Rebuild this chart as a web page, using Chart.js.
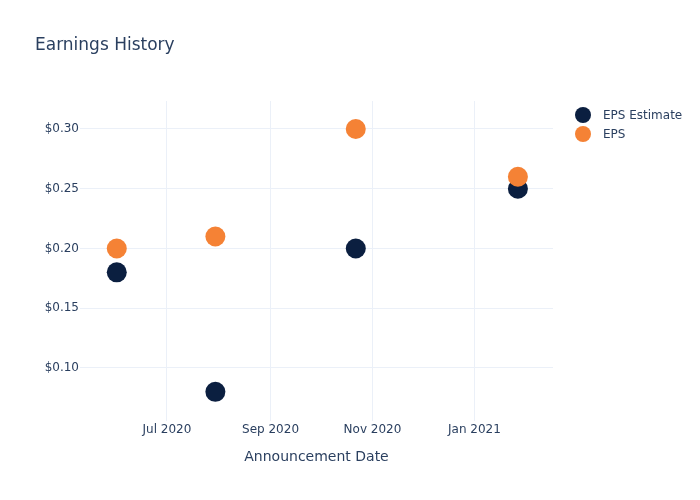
<!DOCTYPE html>
<html>
<head>
<meta charset="utf-8">
<script src="https://cdn.jsdelivr.net/npm/chart.js@4.4.0/dist/chart.umd.min.js"></script>
<style>
  html, body { margin: 0; padding: 0; background: #fff; }
  #wrap { width: 700px; height: 500px; }
</style>
</head>
<body>
<div id="wrap"><canvas id="earnings"></canvas></div>
<script>
// announcement dates and eps values
var dates = ['2020-06-01', '2020-07-30', '2020-10-22', '2021-01-27'];
var epsEstimate = [0.18, 0.08, 0.20, 0.25];
var epsActual = [0.20, 0.21, 0.30, 0.26];
var xTickDates = ['2020-07-01', '2020-09-01', '2020-11-01', '2021-01-01'];
var yTicks = [0.10, 0.15, 0.20, 0.25, 0.30];
var monthNames = ['Jan','Feb','Mar','Apr','May','Jun','Jul','Aug','Sep','Oct','Nov','Dec'];

var navy = '#0b1f40';
var orange = '#f58235';
var textColor = '#2a3f5f';
var gridColor = '#ebf0f8';
var fontFamily = '"DejaVu Sans", sans-serif';

function toMs(s) {
  var p = s.split('-');
  return Date.UTC(+p[0], +p[1] - 1, +p[2]);
}

function points(vals) {
  return dates.map(function (d, i) { return { x: toMs(d), y: vals[i] }; });
}

var legendItems = [
  { label: 'EPS Estimate', color: navy },
  { label: 'EPS', color: orange }
];

// simple legend drawn top right, plotly style
var sideLegend = {
  id: 'sideLegend',
  afterDraw: function (chart) {
    var ctx = chart.ctx;
    ctx.save();
    ctx.font = '12px ' + fontFamily;
    ctx.textBaseline = 'middle';
    ctx.textAlign = 'left';
    legendItems.forEach(function (item, i) {
      var y = 115 + i * 19;
      ctx.beginPath();
      ctx.arc(583, y, 8, 0, Math.PI * 2);
      ctx.fillStyle = item.color;
      ctx.fill();
      ctx.fillStyle = textColor;
      ctx.fillText(item.label, 603, y + 1);
    });
    ctx.restore();
  }
};

var chart = new Chart(document.getElementById('earnings'), {
  type: 'scatter',
  data: {
    datasets: [{
      label: 'EPS Estimate',
      data: points(epsEstimate),
      backgroundColor: navy,
      borderWidth: 0,
      pointRadius: 10,
      pointHoverRadius: 10,
      order: 1
    }, {
      label: 'EPS',
      data: points(epsActual),
      backgroundColor: orange,
      borderWidth: 0,
      pointRadius: 10,
      pointHoverRadius: 10,
      order: 0
    }]
  },
  options: {
    responsive: true,
    maintainAspectRatio: false,
    animation: false,
    layout: { padding: { left: 35, right: 147, top: 0, bottom: 0 } },
    plugins: {
      legend: { display: false },
      tooltip: { enabled: false },
      title: {
        display: true,
        text: 'Earnings History',
        align: 'start',
        color: textColor,
        font: { family: fontFamily, size: 17, weight: 'normal' },
        padding: { top: 35, bottom: 45.6 }
      }
    },
    scales: {
      x: {
        type: 'linear',
        min: toMs('2020-05-10'),
        max: toMs('2021-02-17'),
        afterBuildTicks: function (axis) {
          axis.ticks = xTickDates.map(function (d) { return { value: toMs(d) }; });
        },
        afterFit: function (axis) { axis.height = 79; },
        ticks: {
          color: textColor,
          font: { family: fontFamily, size: 12 },
          padding: 2,
          maxRotation: 0,
          callback: function (v) {
            var d = new Date(v);
            return monthNames[d.getUTCMonth()] + ' ' + d.getUTCFullYear();
          }
        },
        grid: { color: gridColor, drawTicks: false },
        border: { display: false },
        title: {
          display: true,
          text: 'Announcement Date',
          color: textColor,
          font: { family: fontFamily, size: 14 },
          padding: { top: 34, bottom: 34 }
        }
      },
      y: {
        min: 0.0556,
        max: 0.3234,
        afterBuildTicks: function (axis) {
          axis.ticks = yTicks.map(function (v) { return { value: v }; });
        },
        afterFit: function (axis) { axis.width = 45; },
        ticks: {
          color: textColor,
          font: { family: fontFamily, size: 12 },
          padding: 1,
          callback: function (v) { return '$' + v.toFixed(2); }
        },
        grid: { color: gridColor, drawTicks: false },
        border: { display: false }
      }
    }
  },
  plugins: [sideLegend]
});
</script>
</body>
</html>
